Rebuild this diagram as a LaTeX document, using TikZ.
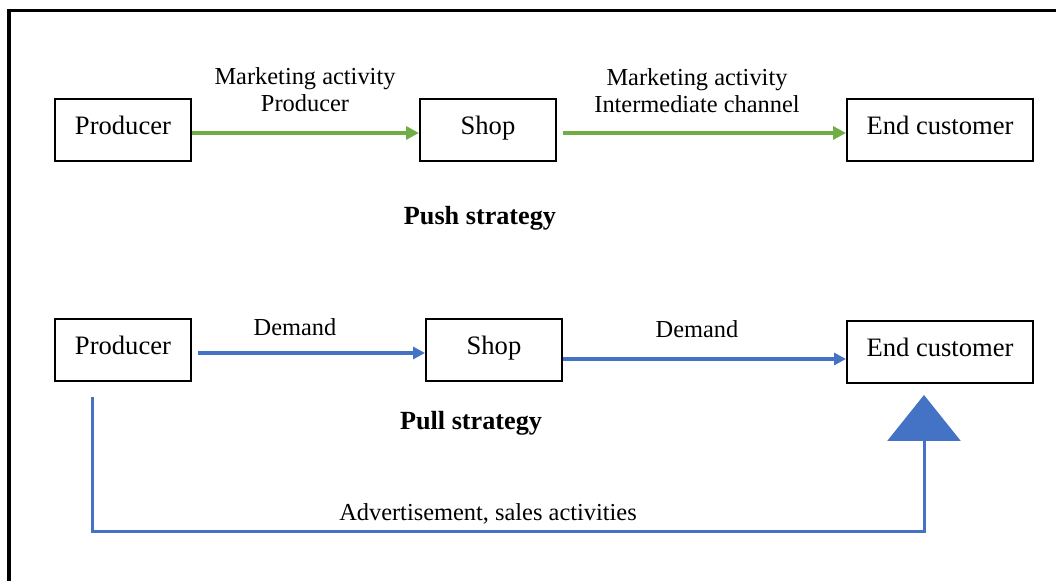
\documentclass[tikz,border=0pt]{standalone}
\usepackage{fontspec}
\setmainfont{Liberation Serif}
\usetikzlibrary{arrows.meta,calc}
\definecolor{pushgreen}{RGB}{112,173,71}
\definecolor{pullblue}{RGB}{68,114,196}
\begin{document}
\begin{tikzpicture}[x=0.5pt,y=-0.5pt,
  every node/.style={font=\fontsize{12.2}{13.5}\selectfont},
  box/.style={draw=black,line width=1pt,minimum height=31pt,text height=13pt,text depth=8pt,inner sep=0pt,font=\fontsize{13.3}{14}\selectfont},
  lbl/.style={align=center,inner sep=0pt},
  title/.style={inner sep=0pt,font=\fontsize{13.1}{14}\selectfont\bfseries},
  greenarrow/.style={draw=pushgreen,line width=1.6pt,-{Triangle[length=6.5pt,width=6.5pt]}},
  bluearrow/.style={draw=pullblue,line width=2pt,-{Triangle[length=6pt,width=6pt]}},
  looparrow/.style={draw=pullblue,line width=1.5pt,-{Triangle[length=23pt,width=36.5pt]}},
  frame/.style={draw=black,line width=1.6pt}]
\useasboundingbox (0,0) rectangle (1056,581);
% frame
\draw[frame] (9,581) -- (9,10.5) -- (1056,10.5);
% push row
\node[box,minimum width=68pt] (p1) at (123,130) {Producer};
\node[box,minimum width=68pt] (s1) at (488,130) {Shop};
\node[box,minimum width=93pt] (e1) at (940,130) {End customer};
\draw[greenarrow] ([yshift=-1.5pt]p1.east) -- ([yshift=-1.5pt]s1.west);
\draw[greenarrow] ([xshift=3pt,yshift=-1.5pt]s1.east) -- ([yshift=-1.5pt]e1.west);
\node[lbl] (l1) at (305,90) {Marketing activity\\Producer};
\node[lbl] (l2) at (697,91) {Marketing activity\\Intermediate channel};
\node[title] (push) at (480,218) {Push strategy};
% pull row
\node[box,minimum width=68pt] (p2) at (123,350) {Producer};
\node[box,minimum width=68pt] (s2) at (494,350) {Shop};
\node[box,minimum width=93pt] (e2) at (940,352) {End customer};
\draw[bluearrow] ([xshift=3pt,yshift=-1.5pt]p2.east) -- ([yshift=-1.5pt]s2.west);
\draw[bluearrow] ([yshift=-4.5pt]s2.east) -- ([yshift=-3.5pt]e2.west);
\node[lbl] (d1) at (295,327) {Demand};
\node[lbl] (d2) at (697,329) {Demand};
\node[title] (pull) at (471,423) {Pull strategy};
% advertisement loop
\coordinate (loopstart) at (92,397);
\coordinate (looptip) at (924,395);
\draw[looparrow] (loopstart) -- (92,532) -- (924,532) -- (looptip);
\node[lbl] (adv) at (488,514) {Advertisement, sales activities};
\end{tikzpicture}
\end{document}
